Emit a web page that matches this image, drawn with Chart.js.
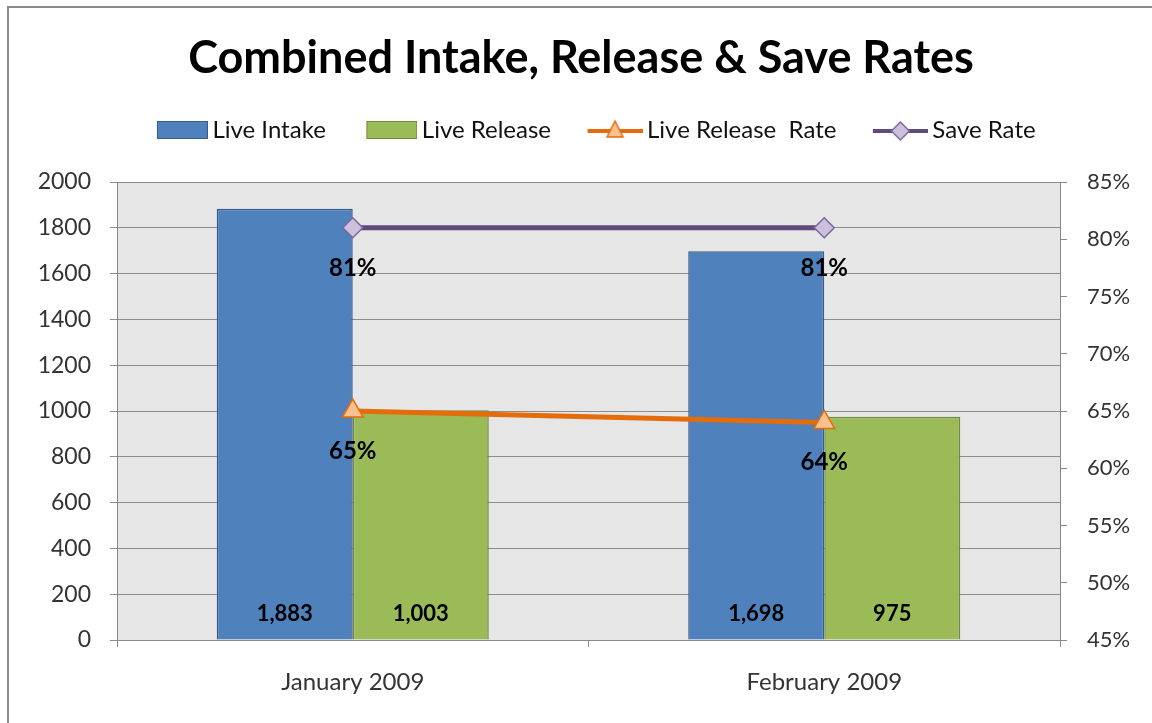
<!DOCTYPE html>
<html>
<head>
<meta charset="utf-8">
<script src="https://cdn.jsdelivr.net/npm/chart.js@4"></script>
<style>
  body { margin: 0; background: #fff; }
  #frame { position: absolute; left: 7px; top: 6px; width: 1200px; height: 800px; border: 2px solid #8a8a8a; }
  #wrap { position: absolute; left: 0; top: 0; width: 1152px; height: 723px; }
</style>
</head>
<body>
<div id="frame"></div>
<div id="wrap"><canvas id="comboChart"></canvas></div>
<script>
var months = ["January 2009", "February 2009"];
var liveIntake = [1883, 1698];
var liveRelease = [1003, 975];
var liveReleaseRate = [65, 64];
var saveRate = [81, 81];
var countTicks = [0, 200, 400, 600, 800, 1000, 1200, 1400, 1600, 1800, 2000];
var rateTicks = [45, 50, 55, 60, 65, 70, 75, 80, 85];

Chart.defaults.font.family = "Lato, 'Open Sans', sans-serif";
Chart.defaults.color = "#333";

// legend icons: canvas is wider than pointStyleWidth so the icon sits close to its text
var iconBoxWidth = 74;
var iconCanvasWidth = iconBoxWidth + 15;

function legendBox(fill, stroke) {
    var c = document.createElement("canvas");
    c.width = iconCanvasWidth; c.height = 26;
    var g = c.getContext("2d");
    var x0 = iconCanvasWidth - 51;
    g.fillStyle = fill;
    g.fillRect(x0, 4, 51, 18);
    g.strokeStyle = stroke;
    g.lineWidth = 1;
    g.strokeRect(x0 + 0.5, 4.5, 50, 17);
    return c;
}

function legendLine(color, marker, fill, stroke) {
    var c = document.createElement("canvas");
    c.width = iconCanvasWidth; c.height = 26;
    var g = c.getContext("2d");
    var x0 = iconCanvasWidth - 55;
    var mx = x0 + 27.5;
    g.strokeStyle = color;
    g.lineWidth = 4;
    g.beginPath(); g.moveTo(x0, 14); g.lineTo(x0 + 55, 14); g.stroke();
    g.fillStyle = fill;
    g.strokeStyle = stroke;
    g.lineWidth = 1.5;
    g.beginPath();
    if (marker == "triangle") {
        g.moveTo(mx, 4); g.lineTo(mx + 8, 20); g.lineTo(mx - 8, 20);
    } else {
        g.moveTo(mx, 5); g.lineTo(mx + 9, 14); g.lineTo(mx, 23); g.lineTo(mx - 9, 14);
    }
    g.closePath(); g.fill(); g.stroke();
    return c;
}

var legendIcons = [
    legendBox("#4f81bd", "#385d8a"),
    legendBox("#9bbb59", "#71893f"),
    legendLine("#e46c0a", "triangle", "#fac090", "#e46c0a"),
    legendLine("#604a7b", "diamond", "#ccc1da", "#8064a2")
];

var plotBackground = {
    id: "plotBackground",
    beforeInit: function (chart) {
        var fit = chart.legend.fit;
        chart.legend.fit = function () {
            fit.call(this);
            this.height += 30;
        };
    },
    beforeDraw: function (chart) {
        var a = chart.chartArea;
        var ctx = chart.ctx;
        ctx.save();
        ctx.fillStyle = "#e6e6e6";
        ctx.fillRect(a.left, a.top, a.right - a.left, a.bottom - a.top);
        ctx.restore();
    }
};

var valueLabels = {
    id: "valueLabels",
    afterDatasetsDraw: function (chart) {
        var ctx = chart.ctx;
        ctx.save();
        ctx.fillStyle = "#000";
        ctx.textAlign = "center";
        ctx.textBaseline = "middle";
        chart.data.datasets.forEach(function (ds, i) {
            var meta = chart.getDatasetMeta(i);
            meta.data.forEach(function (el, j) {
                if (ds.type == "bar") {
                    ctx.font = "bold 22px Lato, sans-serif";
                    ctx.fillText(ds.data[j].toLocaleString("en-US"), el.x, chart.chartArea.bottom - 26);
                } else {
                    ctx.font = "bold 24px Lato, sans-serif";
                    ctx.fillText(ds.data[j] + "%", el.x, el.y + 40);
                }
            });
        });
        ctx.restore();
    }
};

var canvas = document.getElementById("comboChart");
var ctx = canvas.getContext("2d");
canvas.chart = new Chart(ctx, {
    data: {
        labels: months,
        datasets: [
            {
                type: "bar",
                label: "Live Intake",
                data: liveIntake,
                backgroundColor: "#4f81bd",
                borderColor: "#385d8a",
                borderWidth: 1.5,
                yAxisID: "y",
                order: 1,
                categoryPercentage: 0.577,
                barPercentage: 1.0,
            },
            {
                type: "bar",
                label: "Live Release",
                data: liveRelease,
                backgroundColor: "#9bbb59",
                borderColor: "#71893f",
                borderWidth: 1.5,
                yAxisID: "y",
                order: 1,
                categoryPercentage: 0.577,
                barPercentage: 1.0,
            },
            {
                type: "line",
                label: "Live Release  Rate",
                data: liveReleaseRate,
                borderColor: "#e46c0a",
                borderWidth: 5,
                pointStyle: "triangle",
                pointRadius: 12,
                pointBackgroundColor: "#fac090",
                pointBorderColor: "#e46c0a",
                pointBorderWidth: 1.5,
                yAxisID: "y2",
                order: 0,
            },
            {
                type: "line",
                label: "Save Rate",
                data: saveRate,
                borderColor: "#604a7b",
                borderWidth: 5,
                pointStyle: "rectRot",
                pointRadius: 10,
                pointBackgroundColor: "#ccc1da",
                pointBorderColor: "#8064a2",
                pointBorderWidth: 1.5,
                yAxisID: "y2",
                order: 0,
            },
        ],
    },
    plugins: [plotBackground, valueLabels],
    options: {
        responsive: true,
        maintainAspectRatio: false,
        animation: false,
        devicePixelRatio: 1,
        layout: {
            padding: { left: 10, top: 0, right: 0, bottom: 0 },
        },
        scales: {
            x: {
                offset: true,
                grid: {
                    offset: true,
                    drawOnChartArea: false,
                    tickLength: 7,
                    color: "#888",
                },
                border: { color: "#888" },
                ticks: {
                    padding: 21,
                    color: "#333",
                    font: { size: 24 },
                },
                afterFit: function (scale) { scale.height = 83; },
            },
            y: {
                position: "left",
                min: 0,
                max: 2000,
                afterBuildTicks: function (scale) {
                    scale.ticks = countTicks.map(function (v) { return { value: v }; });
                },
                grid: {
                    color: "#8c8c8c",
                    tickLength: 7,
                },
                border: { color: "#888" },
                ticks: {
                    padding: 19,
                    color: "#333",
                    font: { size: 23 },
                    callback: function (v) { return String(v); },
                },
                afterFit: function (scale) { scale.width = 107; },
            },
            y2: {
                position: "right",
                min: 45,
                max: 85,
                afterBuildTicks: function (scale) {
                    scale.ticks = rateTicks.map(function (v) { return { value: v }; });
                },
                grid: {
                    drawOnChartArea: false,
                    color: "#888",
                    tickLength: 7,
                },
                border: { color: "#888" },
                ticks: {
                    padding: 20,
                    color: "#333",
                    font: { size: 22 },
                    callback: function (v) { return v + "%"; },
                },
                afterFit: function (scale) { scale.width = 92; },
            },
        },
        plugins: {
            title: {
                display: true,
                text: "Combined Intake, Release & Save Rates",
                color: "#000",
                font: { size: 45, weight: "bold" },
                padding: { top: 31, bottom: 23 },
            },
            legend: {
                display: true,
                position: "top",
                labels: {
                    usePointStyle: true,
                    pointStyleWidth: iconBoxWidth,
                    padding: 10,
                    color: "#111",
                    font: { size: 24 },
                    generateLabels: function (chart) {
                        var items = Chart.defaults.plugins.legend.labels.generateLabels(chart);
                        items.forEach(function (item) {
                            item.pointStyle = legendIcons[item.datasetIndex];
                        });
                        return items;
                    },
                    sort: function (a, b) { return a.datasetIndex - b.datasetIndex; },
                },
            },
            tooltip: { enabled: false },
        },
    },
});
</script>
</body>
</html>
